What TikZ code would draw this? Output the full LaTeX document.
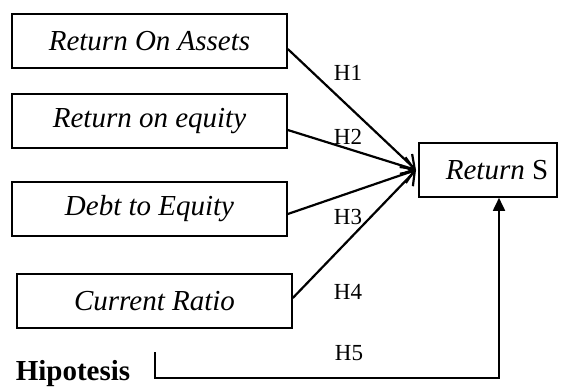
\documentclass[tikz,border=0pt]{standalone}
\usepackage{fontspec}
\setmainfont{Liberation Serif}
\usetikzlibrary{arrows.meta}
\begin{document}
\begin{tikzpicture}[x=1pt,y=-1pt,
  varbox/.style={draw,line width=1.6pt,minimum width=275pt,minimum height=54pt,inner sep=0pt,font=\fontsize{29}{32}\selectfont\itshape},
  lbl/.style={font=\fontsize{23}{26}\selectfont,inner sep=0pt},
  link/.style={line width=2.2pt,-{Straight Barb[length=12pt,width=18pt,line width=2.2pt]}}]
\useasboundingbox (0,0) rectangle (568,388);
\node[varbox] (b1) at (149.5,41) {Return On Assets};
\node[varbox] (b2) at (149.5,121) {Return on equity};
\node[varbox] (b3) at (149.5,209) {Debt to Equity};
\node[varbox] (b4) at (154.5,301) {Current Ratio};
\node[draw,line width=1.6pt,minimum width=138pt,minimum height=54pt,inner sep=0pt,font=\fontsize{29}{32}\selectfont] (ret) at (488,170) {\hspace*{18pt}\textit{Return} S};
\coordinate (tip) at (416,170);
\draw[link] ([yshift=-8pt]b1.east) -- (tip);
\draw[link] ([yshift=-9pt]b2.east) -- (tip);
\draw[link] ([yshift=-5pt]b3.east) -- (tip);
\draw[link] ([yshift=3pt]b4.east) -- (tip);
\node[lbl] (h1) at (348,73) {H1};
\node[lbl] (h2) at (348,137) {H2};
\node[lbl] (h3) at (348,217) {H3};
\node[lbl] (h4) at (348,292) {H4};
\node[lbl] (h5) at (349,353) {H5};
\coordinate (s5) at (155,352);
\coordinate (c5) at (155,378);
\coordinate (d5) at (499,378);
\draw[line width=1.8pt,-{Triangle[length=13pt,width=12pt]}] (s5) -- (c5) -- (d5) -- (d5 |- ret.south);
\node[font=\fontsize{29}{32}\selectfont\bfseries,inner sep=0pt,anchor=base] (hip) at (73,380) {Hipotesis};
\end{tikzpicture}
\end{document}
